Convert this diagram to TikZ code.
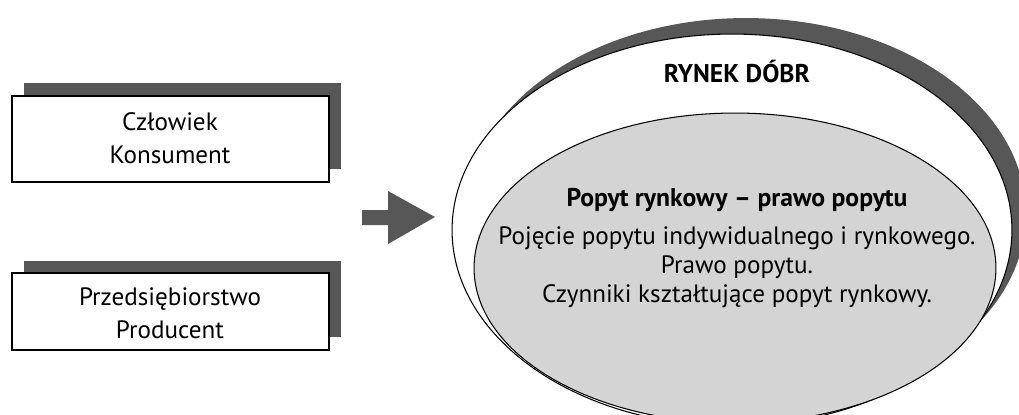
\documentclass[tikz,border=0pt]{standalone}
\usepackage{fontspec}
\setmainfont{PT Sans}
\usepackage{xcolor}
\usetikzlibrary{shapes,arrows,positioning,calc}
\definecolor{shadowgray}{HTML}{575757}
\definecolor{fillgray}{HTML}{D4D4D4}

\begin{document}
\begin{tikzpicture}[x=0.02cm, y=-0.02cm,
    txt/.style={align=center, font=\fontsize{14.3}{18.7}\selectfont},
    boldtxt/.style={align=center, font=\fontsize{14.6}{17}\selectfont\bfseries}]
    \useasboundingbox (0,0) rectangle (1019,414);

    % Left boxes with shadow
    \fill[shadowgray] (24,83) rectangle (341,169);
    \draw[line width=1.1pt, fill=white] (12,96) rectangle (329,182);
    \node[txt] (czlowiek) at (170,138) {Człowiek\\Konsument};

    \fill[shadowgray] (24,261) rectangle (341,337);
    \draw[line width=1.1pt, fill=white] (12,273) rectangle (329,350);
    \node[txt] (firma) at (170,313) {Przedsiębiorstwo\\Producent};

    % Block arrow
    \fill[shadowgray] (362,210) -- (388,210) -- (388,191) -- (435,217)
        -- (388,244) -- (388,225) -- (362,225) -- cycle;

    % Market ellipse
    \fill[shadowgray] (746,214) ellipse [x radius=5.6cm, y radius=3.92cm];
    \draw[line width=0.6pt, fill=white] (732,230) ellipse [x radius=5.6cm, y radius=3.92cm];
    \node[boldtxt] (rynek) at (737,72) {RYNEK DÓBR};

    % Demand ellipse
    \draw[line width=0.6pt, fill=fillgray] (735,268) ellipse [x radius=5.22cm, y radius=3.1cm];
    \node[boldtxt] (popyt) at (737,200) {Popyt rynkowy – prawo popytu};
    \node[txt, font=\fontsize{14.3}{16.6}\selectfont] (opis) at (737,267)
        {Pojęcie popytu indywidualnego i rynkowego.\\Prawo popytu.\\Czynniki kształtujące popyt rynkowy.};
\end{tikzpicture}
\end{document}
